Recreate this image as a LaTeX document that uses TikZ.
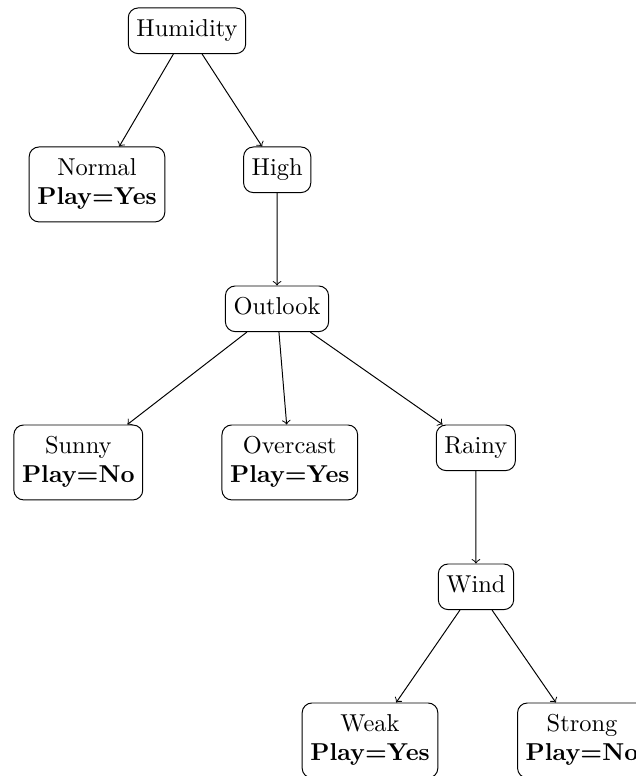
\documentclass[tikz,border=0pt]{standalone}
\usetikzlibrary{arrows}
\tikzset{
  treenode/.style={draw, rounded corners=4pt, align=center, anchor=north, inner sep=0.3333em, line width=0.4pt},
  treeedge/.style={->, line width=0.4pt}
}
\begin{document}
\begin{tikzpicture}[x=0.4093pt, y=-0.4093pt]
\useasboundingbox (0,0) rectangle (635,776);
\node[treenode] (hum) at (187,7.5) {Humidity\strut};
\node[treenode] (normal) at (97,146.5) {Normal\strut\\\textbf{Play=Yes}\strut};
\node[treenode] (high) at (277.2,146.5) {High\strut};
\node[treenode] (outlook) at (277,285.5) {Outlook\strut};
\node[treenode] (sunny) at (78.3,424.5) {Sunny\strut\\\textbf{Play=No}\strut};
\node[treenode] (overcast) at (289.8,424.5) {Overcast\strut\\\textbf{Play=Yes}\strut};
\node[treenode] (rainy) at (475.8,424.5) {Rainy\strut};
\node[treenode] (wind) at (476,563.5) {Wind\strut};
\node[treenode] (weak) at (370,702.5) {Weak\strut\\\textbf{Play=Yes}\strut};
\node[treenode] (strong) at (582,702.5) {Strong\strut\\\textbf{Play=No}\strut};
\draw[treeedge] (hum) -- (normal);
\draw[treeedge] (hum) -- (high);
\draw[treeedge] (high) -- (outlook);
\draw[treeedge] (outlook) -- (sunny);
\draw[treeedge] (outlook) -- (overcast);
\draw[treeedge] (outlook) -- (rainy);
\draw[treeedge] (rainy) -- (wind);
\draw[treeedge] (wind) -- (weak);
\draw[treeedge] (wind) -- (strong);
\end{tikzpicture}
\end{document}
